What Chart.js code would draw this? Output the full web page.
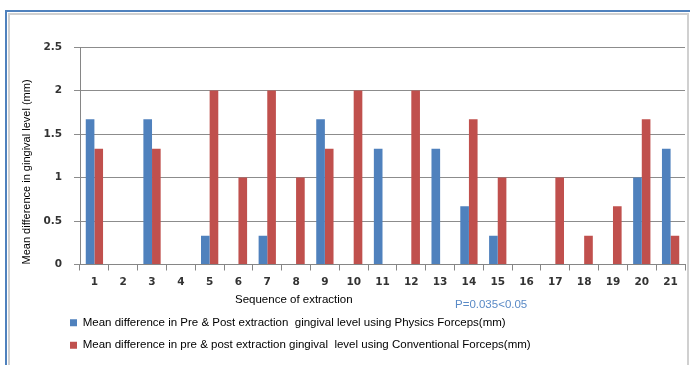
<!DOCTYPE html>
<html lang="en">
<head>
  <meta charset="UTF-8" />
  <title>Gingival level difference</title>
  <script src="https://cdn.jsdelivr.net/npm/chart.js"></script>
  <style>
    body {
      margin: 0;
      width: 690px;
      height: 365px;
      overflow: hidden;
      background: #fff;
      position: relative;
      font-family: 'Liberation Sans', Arial, sans-serif;
    }
    .frame {
      position: absolute;
      left: 5px;
      top: 10px;
      width: 700px;
      height: 400px;
      border-top: 2px solid #4f81bd;
      border-left: 2px solid #4f81bd;
    }
    .inner {
      position: absolute;
      left: 8px;
      top: 13px;
      width: 677px;
      height: 400px;
      border: 2px solid #d0d0d0;
    }
    canvas {
      position: absolute;
      left: 0;
      top: 0;
    }
    .note {
      position: absolute;
      font-size: 11.5px;
      white-space: nowrap;
      line-height: 14px;
    }
  </style>
</head>
<body>
  <div class="frame"></div>
  <div class="inner"></div>
  <canvas id="chart" width="690" height="365"></canvas>
  <div class="note" style="left:235px; top:292px; color:#000;">Sequence of extraction</div>
  <div class="note" style="left:455px; top:297px; color:#5a8ac6;">P=0.035&lt;0.05</div>

  <script>
    const sequence = ['1', '2', '3', '4', '5', '6', '7', '8', '9', '10', '11',
                      '12', '13', '14', '15', '16', '17', '18', '19', '20', '21'];
    const physicsForceps = [1.67, 0, 1.67, 0, 0.33, 0, 0.33, 0, 1.67, 0, 1.33,
                            0, 1.33, 0.67, 0.33, 0, 0, 0, 0, 1, 1.33];
    const conventionalForceps = [1.33, 0, 1.33, 0, 2, 1, 2, 1, 1.33, 2, 0,
                                 2, 0, 1.67, 1, 0, 1, 0.33, 0.67, 1.67, 0.33];

    // move the legend rows left, under the y axis labels
    const legendShift = {
      id: 'legendShift',
      afterLayout(chart) {
        chart.legend.left = 59;
      }
    };

    new Chart(document.getElementById('chart'), {
      type: 'bar',
      data: {
        labels: sequence,
        datasets: [
          {
            label: 'Mean difference in Pre & Post extraction  gingival level using Physics Forceps(mm)',
            data: physicsForceps,
            backgroundColor: '#4f81bd'
          },
          {
            label: 'Mean difference in pre & post extraction gingival  level using Conventional Forceps(mm)',
            data: conventionalForceps,
            backgroundColor: '#c0504d'
          }
        ]
      },
      options: {
        responsive: false,
        animation: false,
        datasets: { bar: { categoryPercentage: 0.6, barPercentage: 1 } },
        layout: { padding: { left: 20, right: 5, top: 47, bottom: 4 } },
        plugins: {
          tooltip: { enabled: false },
          legend: {
            position: 'bottom',
            align: 'start',
            labels: {
              boxWidth: 7,
              boxHeight: 7,
              padding: 11,
              color: '#000',
              font: { family: 'Liberation Sans', size: 11.5 }
            }
          }
        },
        scales: {
          x: {
            grid: { offset: true, drawOnChartArea: false, tickLength: 6, color: '#868686' },
            border: { color: '#868686' },
            ticks: { color: '#333', padding: 5, font: { family: 'DejaVu Sans', size: 10.5, weight: 'bold' } },
            afterFit: (scale) => { scale.height = 41.5; }
          },
          y: {
            min: 0,
            max: 2.5,
            ticks: {
              stepSize: 0.5,
              color: '#333',
              padding: 12,
              font: { family: 'DejaVu Sans', size: 10.5, weight: 'bold' },
              callback: (v) => String(v)
            },
            grid: { color: '#8c8c8c', tickLength: 6 },
            border: { color: '#868686' },
            title: {
              display: true,
              text: 'Mean difference in gingival level (mm)',
              align: 'start',
              color: '#000',
              padding: 0,
              font: { family: 'Liberation Sans', size: 11 }
            },
            afterFit: (scale) => { scale.width = 60; }
          }
        }
      },
      plugins: [legendShift]
    });
  </script>
</body>
</html>
